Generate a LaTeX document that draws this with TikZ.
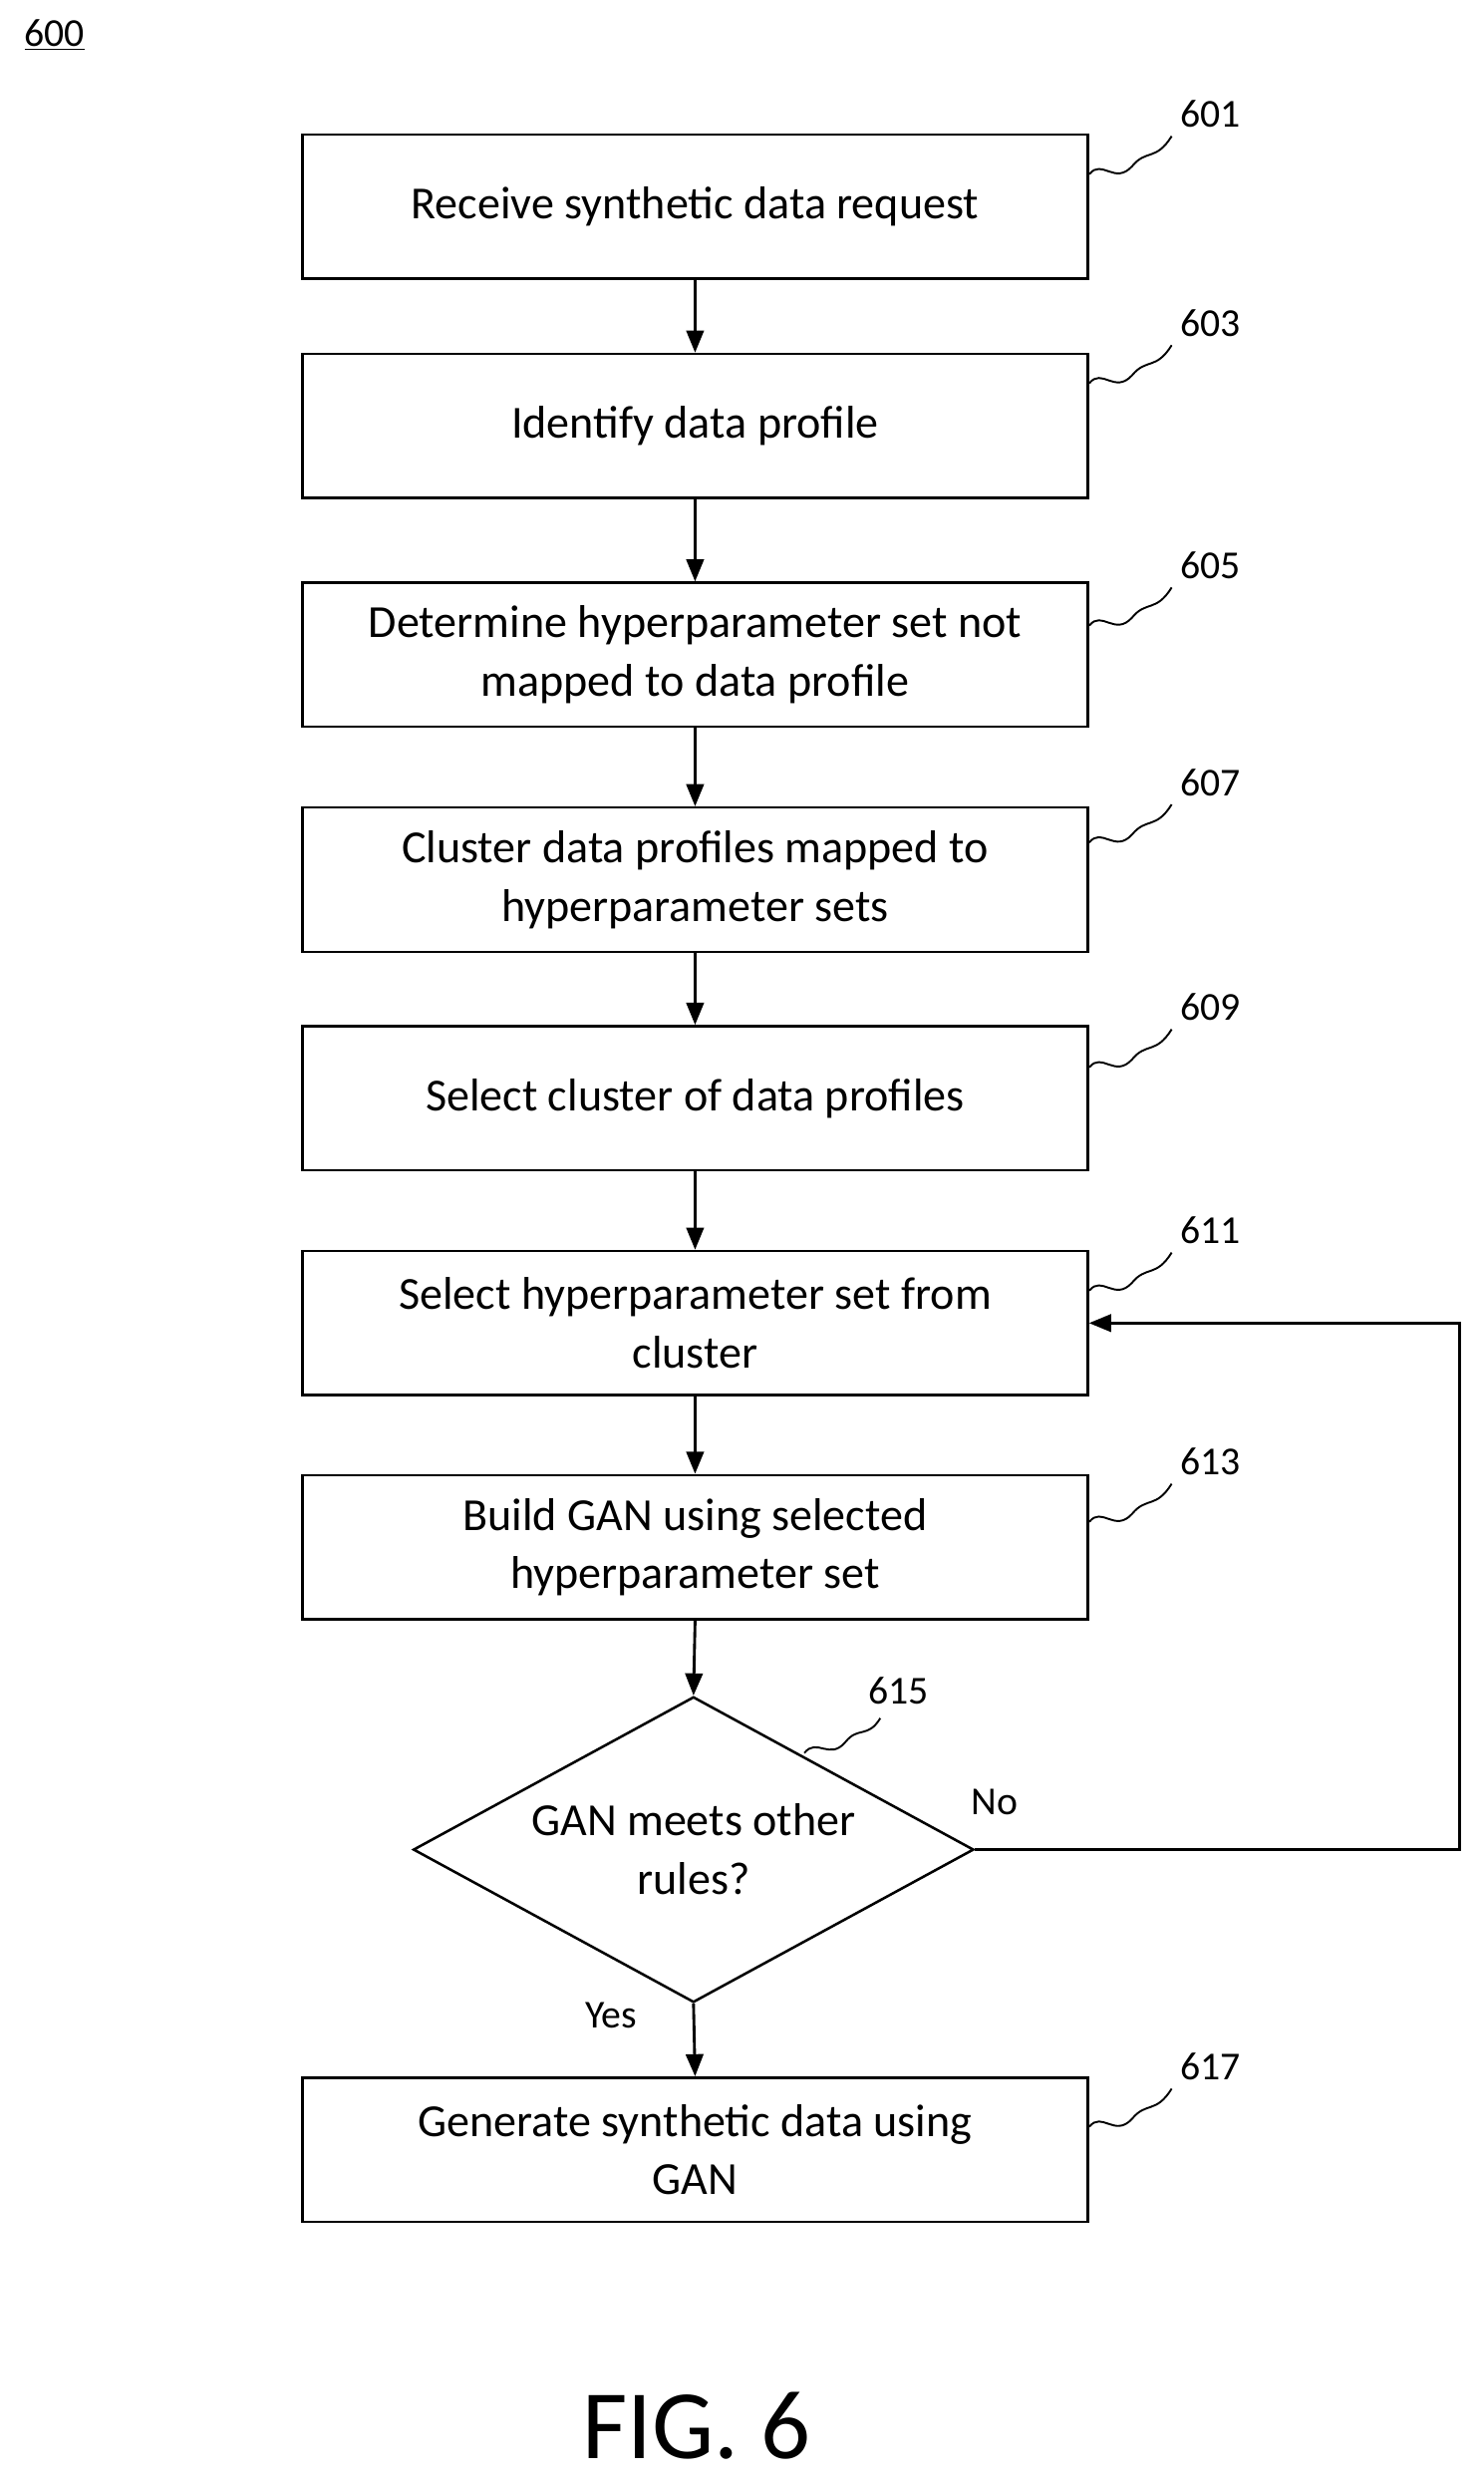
\documentclass[tikz,border=0pt]{standalone}
\usepackage{fontspec}
\setmainfont{Carlito}
\usetikzlibrary{shapes.geometric,arrows.meta}
\begin{document}
\begin{tikzpicture}[x=1pt,y=1pt,
  box/.style={draw,line width=1.6pt,minimum width=496pt,minimum height=91pt,align=center,font=\fontsize{29}{37}\selectfont,inner sep=2pt},
  arr/.style={-{Triangle[length=14pt,width=11pt]},line width=1.8pt},
  lab/.style={font=\fontsize{25}{30}\selectfont},
  sq/.style={line width=1.2pt}]
\useasboundingbox (0,0) rectangle (937,-1568);
\node[lab,anchor=west] (n600) at (12,-22) {\underline{600}};
\node[box] (b1) at (439,-130.5) {Receive synthetic data request};
\node[box] (b2) at (439,-269) {Identify data profile};
\node[box] (b3) at (439,-413.5) {Determine hyperparameter set not\\mapped to data profile};
\node[box] (b4) at (439,-555.5) {Cluster data profiles mapped to\\hyperparameter sets};
\node[box] (b5) at (439,-693.5) {Select cluster of data profiles};
\node[box] (b6) at (439,-835.5) {Select hyperparameter set from\\cluster};
\node[box] (b7) at (439,-977) {Build GAN using selected\\hyperparameter set};
\node[draw,line width=1.6pt,diamond,aspect=1.83,minimum width=354pt,minimum height=193pt,inner sep=0pt,align=center,font=\fontsize{29}{37}\selectfont] (d) at (438,-1168) {GAN meets other\\rules?};
\node[box] (b8) at (439,-1357.5) {Generate synthetic data using\\GAN};
\draw[arr] (b1) -- (b2);
\draw[arr] (b2) -- (b3);
\draw[arr] (b3) -- (b4);
\draw[arr] (b4) -- (b5);
\draw[arr] (b5) -- (b6);
\draw[arr] (b6) -- (b7);
\draw[arr] (b7.south) -- (d.north);
\draw[arr] (d.south) -- (b8.north);
\coordinate (c1) at (922,-1168);
\coordinate (c2) at (922,-835.5);
\draw[arr] (d.east) -- (c1) -- (c2) -- (b6.east);
\node[lab] (no) at (628,-1138) {No};
\node[lab] (yes) at (386,-1273) {Yes};
\newcommand{\squig}[3]{%
  \draw[sq] (#1,-#2-38) .. controls (#1+8,-#2-28) and (#1+16,-#2-45) .. (#1+27,-#2-33) .. controls (#1+36,-#2-22) and (#1+42,-#2-30) .. (#1+52,-#2-14);
  \node[lab,anchor=west] at (#1+54,-#2) {#3};}
\squig{688}{72}{601}
\squig{688}{204}{603}
\squig{688}{357}{605}
\squig{688}{494}{607}
\squig{688}{636}{609}
\squig{688}{777}{611}
\squig{688}{923}{613}
\squig{688}{1305}{617}
\draw[sq] (508,-1107) .. controls (516,-1097) and (524,-1112) .. (534,-1100) .. controls (542,-1090) and (548,-1098) .. (556,-1085);
\node[lab,anchor=west] at (545,-1068) {615};
\node[font=\fontsize{62}{70}\selectfont] (fig) at (440,-1532) {FIG. 6};
\end{tikzpicture}
\end{document}
